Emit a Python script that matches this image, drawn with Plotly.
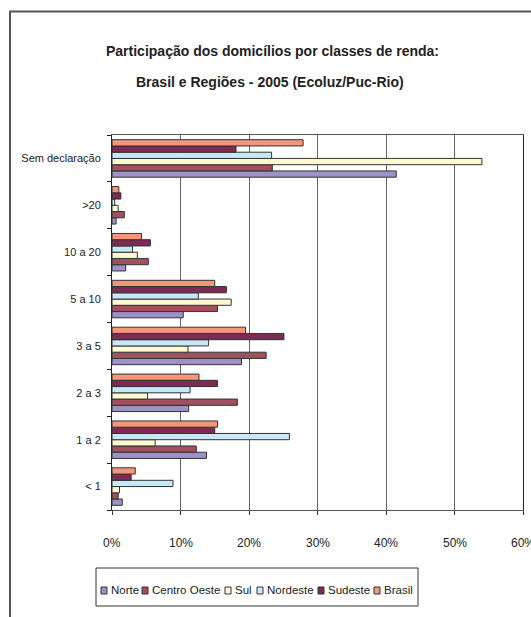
import plotly.graph_objects as go

# Income classes (bottom to top) and share of households per region, in %
classes = ["< 1", "1 a 2", "2 a 3", "3 a 5", "5 a 10", "10 a 20", ">20", "Sem declaração"]

norte = [1.5, 13.8, 11.2, 18.9, 10.4, 2.0, 0.6, 41.5]
centro_oeste = [0.9, 12.3, 18.3, 22.5, 15.4, 5.3, 1.8, 23.4]
sul = [1.1, 6.3, 5.2, 11.1, 17.4, 3.7, 0.9, 54.0]
nordeste = [8.9, 25.9, 11.4, 14.1, 12.6, 3.0, 0.4, 23.3]
sudeste = [2.8, 15.0, 15.4, 25.1, 16.7, 5.6, 1.3, 18.1]
brasil = [3.4, 15.4, 12.7, 19.5, 15.0, 4.3, 1.0, 27.9]

series_names = ["Norte", "Centro Oeste", "Sul", "Nordeste", "Sudeste", "Brasil"]
series_values = [norte, centro_oeste, sul, nordeste, sudeste, brasil]
series_colors = ["#9C92C8", "#A24F5E", "#FFF8D0", "#C8E8F8", "#7D2A55", "#F4967A"]

x_ticks = [0, 10, 20, 30, 40, 50, 60]
x_ticktext = [f"{v}%" for v in x_ticks]

FONT = "Liberation Sans, Arial, sans-serif"
TXT = "#222222"

W, H = 531, 617
ML, MR, MT, MB = 112, 8, 135, 107
PW, PH = W - ML - MR, H - MT - MB


def px_x(px):
    return (px - ML) / PW


def px_y(py):
    return (H - MB - py) / PH


fig = go.Figure()
for name, vals, col in zip(series_names, series_values, series_colors):
    fig.add_trace(go.Bar(
        y=classes, x=vals, name=name, orientation="h",
        marker=dict(color=col, line=dict(color="#333333", width=1)),
        showlegend=False,
    ))

shapes = []
annotations = []

# outer chart frame
shapes.append(dict(type="rect", xref="paper", yref="paper",
                   x0=px_x(10), x1=px_x(540), y0=px_y(630), y1=px_y(11.5),
                   line=dict(color="#555555", width=2), fillcolor="rgba(0,0,0,0)",
                   layer="below"))

# title, two lines
annotations.append(dict(text="<b>Participação dos domicílios por classes de renda:</b>",
                        xref="paper", yref="paper", x=px_x(272), y=px_y(51),
                        xanchor="center", yanchor="middle", showarrow=False,
                        font=dict(family=FONT, size=14, color=TXT)))
annotations.append(dict(text="<b>Brasil e Regiões - 2005 (Ecoluz/Puc-Rio)</b>",
                        xref="paper", yref="paper", x=px_x(270), y=px_y(82),
                        xanchor="center", yanchor="middle", showarrow=False,
                        font=dict(family=FONT, size=14, color=TXT)))

# x tick labels, written as annotations so the last one may run off the edge
for v, t in zip(x_ticks, x_ticktext):
    annotations.append(dict(text=t, xref="x", yref="paper", x=v, y=px_y(543),
                            xanchor="center", yanchor="middle", showarrow=False,
                            font=dict(family=FONT, size=12, color=TXT)))

# legend box with swatches and labels
shapes.append(dict(type="rect", xref="paper", yref="paper",
                   x0=px_x(96), x1=px_x(418), y0=px_y(606), y1=px_y(568),
                   line=dict(color="#333333", width=1), fillcolor="white"))
swatch_left = [101, 142, 225, 257, 318, 374]
for name, col, sx in zip(series_names, series_colors, swatch_left):
    shapes.append(dict(type="rect", xref="paper", yref="paper",
                       x0=px_x(sx), x1=px_x(sx + 6), y0=px_y(594), y1=px_y(587),
                       line=dict(color="#333333", width=1), fillcolor=col))
    annotations.append(dict(text=name, xref="paper", yref="paper",
                            x=px_x(sx + 8), y=px_y(590), xanchor="left", yanchor="middle",
                            showarrow=False,
                            font=dict(family=FONT, size=11.5, color=TXT)))

fig.update_layout(
    width=W, height=H,
    margin=dict(l=ML, r=MR, t=MT, b=MB, pad=0),
    paper_bgcolor="white", plot_bgcolor="white",
    barmode="group", bargap=0.2, bargroupgap=0,
    font=dict(family=FONT, size=12, color=TXT),
    shapes=shapes, annotations=annotations,
    showlegend=False,
)
fig.update_xaxes(
    range=[0, 60], tickvals=x_ticks, showticklabels=False,
    showgrid=True, gridcolor="#666666", gridwidth=1,
    showline=True, linecolor="#555555", linewidth=1, mirror=True,
    ticks="outside", ticklen=4, tickcolor="#333333",
    zeroline=False, fixedrange=True,
)
fig.update_yaxes(
    categoryorder="array", categoryarray=classes,
    showgrid=False, showline=True, linecolor="#222222", linewidth=1, mirror=True,
    ticks="outside", tickson="boundaries", ticklen=4, tickcolor="#222222",
    ticklabelstandoff=8,
    tickfont=dict(family=FONT, size=11, color=TXT),
    fixedrange=True,
)

fig.write_html("out.html")
